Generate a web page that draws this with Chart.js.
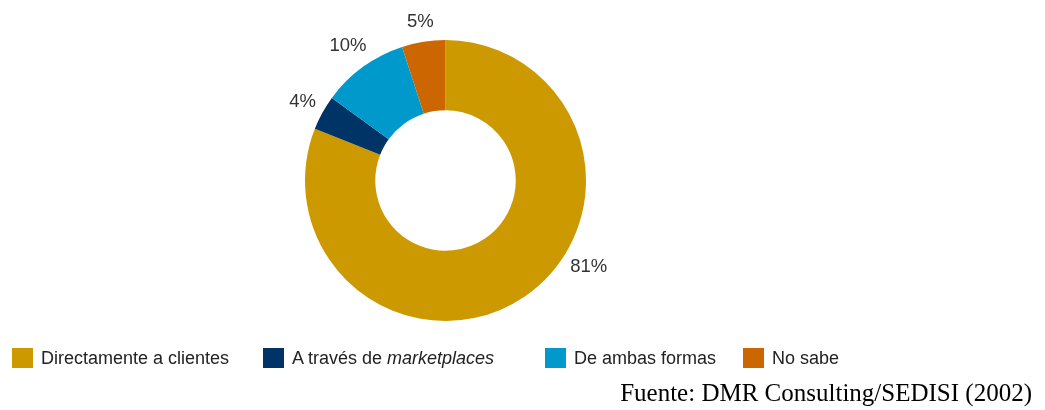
<!DOCTYPE html>
<html>
<head>
<meta charset="utf-8">
<script src="https://cdn.jsdelivr.net/npm/chart.js@4.4.1/dist/chart.umd.min.js"></script>
<style>
  html,body{margin:0;padding:0;background:#fff;}
  #wrap{position:relative;width:1045px;height:410px;overflow:hidden;}
  #c{position:absolute;left:0;top:0;}
  .leg{position:absolute;top:348px;height:20px;display:flex;align-items:center;font-family:"Liberation Sans",Arial,sans-serif;font-size:18px;color:#222;white-space:nowrap;}
  .leg .box{width:21px;height:20px;margin-right:8px;flex:none;}
  #src{position:absolute;right:13px;top:380px;line-height:25px;font-family:"Liberation Serif","Times New Roman",serif;font-size:25px;color:#000;white-space:nowrap;}
</style>
</head>
<body>
<div id="wrap">
  <canvas id="c" width="1045" height="410"></canvas>
  <div id="legend"></div>
  <div id="src"></div>
</div>
<script>
const categories = ["Directamente a clientes", "A través de <i>marketplaces</i>", "De ambas formas", "No sabe"];
const values = [81, 4, 10, 5];
const valueLabels = ["81%", "4%", "10%", "5%"];
const colors = ["#CC9900", "#003366", "#0099CC", "#CC6600"];
const sourceText = "Fuente: DMR Consulting/SEDISI (2002)";

// label placement (angle override in degrees, null = slice middle) and distance from centre
const labelAngles = [31, null, null, null];
const labelDist = [167, 163, 166, 161];
const legendLeft = [12, 263, 545, 743];

const labelPlugin = {
  id: 'pctLabels',
  afterDatasetsDraw(chart) {
    const ctx = chart.ctx;
    const meta = chart.getDatasetMeta(0);
    ctx.save();
    ctx.font = '18.5px "Liberation Sans", Arial, sans-serif';
    ctx.fillStyle = '#333';
    ctx.textAlign = 'center';
    ctx.textBaseline = 'middle';
    meta.data.forEach((arc, i) => {
      const p = arc.getProps(['x','y','startAngle','endAngle'], true);
      let a = labelAngles[i] !== null ? labelAngles[i] * Math.PI / 180 : (p.startAngle + p.endAngle) / 2;
      const r = labelDist[i];
      ctx.fillText(valueLabels[i], p.x + Math.cos(a) * r, p.y + Math.sin(a) * r);
    });
    ctx.restore();
  }
};

new Chart(document.getElementById('c'), {
  type: 'doughnut',
  data: {
    labels: categories.map(s => s.replace(/<[^>]+>/g, '')),
    datasets: [{
      data: values,
      backgroundColor: colors,
      borderWidth: 0
    }]
  },
  options: {
    responsive: false,
    animation: false,
    cutout: '50%',
    rotation: 0,
    layout: { padding: { left: 305, right: 459, top: 40, bottom: 89 } },
    plugins: { legend: { display: false }, tooltip: { enabled: false } }
  },
  plugins: [labelPlugin]
});

const legend = document.getElementById('legend');
categories.forEach((cat, i) => {
  const d = document.createElement('div');
  d.className = 'leg';
  d.style.left = legendLeft[i] + 'px';
  d.innerHTML = '<span class="box" style="background:' + colors[i] + '"></span><span>' + cat + '</span>';
  legend.appendChild(d);
});
document.getElementById('src').textContent = sourceText;
</script>
</body>
</html>
